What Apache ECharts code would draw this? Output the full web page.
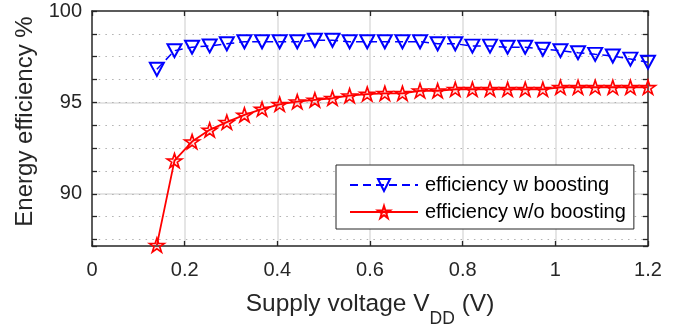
<!DOCTYPE html>
<html>
<head>
<meta charset="utf-8">
<script src="https://cdn.jsdelivr.net/npm/echarts@6/dist/echarts.min.js"></script>
<style>
html,body{margin:0;padding:0;background:#fff;}
#c{width:681px;height:329px;}
</style>
</head>
<body>
<div id="c"></div>
<script>
// ---- data ----
const voltage = [0.14, 0.178, 0.216, 0.254, 0.291, 0.329, 0.367, 0.405, 0.443, 0.481,
                 0.519, 0.556, 0.594, 0.632, 0.670, 0.708, 0.746, 0.784, 0.821, 0.859,
                 0.897, 0.935, 0.973, 1.011, 1.049, 1.086, 1.124, 1.162, 1.2];
const effBoost = [96.81, 97.83, 98.02, 98.09, 98.21, 98.32, 98.32, 98.32, 98.32, 98.40,
                  98.40, 98.32, 98.32, 98.32, 98.32, 98.32, 98.21, 98.21, 98.08, 98.08,
                  98.02, 98.02, 97.91, 97.83, 97.72, 97.63, 97.54, 97.37, 97.20];
const effNoBoost = [87.20, 91.82, 92.86, 93.50, 93.92, 94.32, 94.64, 94.90, 95.04, 95.14,
                    95.23, 95.37, 95.46, 95.50, 95.50, 95.64, 95.64, 95.72, 95.72, 95.72,
                    95.72, 95.72, 95.72, 95.83, 95.83, 95.83, 95.83, 95.83, 95.83];
const seriesNames = ['efficiency w boosting', 'efficiency w/o boosting'];
const yMajorTicks = [90, 95, 100];
const yMinorStep = 1.25;
const xTickStep = 0.2;
const xRange = [0, 1.2];
const yRange = [87.15, 100];

// ---- styling ----
const axisColor = '#262626';
const majorGrid = '#dcdcdc';
const minorGrid = '#b0b0b0';
const starPath = 'path://M50 0 L61.23 34.55 L97.55 34.55 L68.16 55.9 L79.39 90.45 L50 69.1 L20.61 90.45 L31.84 55.9 L2.45 34.55 L38.77 34.55 Z';
const font = '"Liberation Sans", Arial, Helvetica, sans-serif';

const boxAxisLine = {show: true, onZero: false, lineStyle: {color: axisColor, width: 1.5}};
const inTick = {show: true, inside: true, length: 5, lineStyle: {color: axisColor, width: 1.3}};

const chart = echarts.init(document.getElementById('c'), null, {renderer: 'canvas'});
chart.setOption({
  animation: false,
  backgroundColor: '#fff',
  textStyle: {fontFamily: font},
  grid: {left: 92, right: 33, top: 11, bottom: 83, containLabel: false, outerBoundsMode: 'none'},
  legend: {
    orient: 'vertical',
    left: 336, top: 165,
    padding: [10, 8, 7, 13],
    itemGap: 7,
    itemWidth: 68,
    itemHeight: 15,
    backgroundColor: '#fff',
    borderColor: axisColor,
    borderWidth: 1,
    borderRadius: 0,
    textStyle: {fontSize: 20, color: '#000', fontFamily: font, padding: [0, 0, 0, 2], lineHeight: 20},
    data: seriesNames
  },
  xAxis: [
    {
      type: 'value', min: xRange[0], max: xRange[1], interval: xTickStep, position: 'bottom',
      name: '{a|Supply voltage V}{s|DD}{a| (V)}',
      nameLocation: 'middle', nameGap: 46,
      nameTextStyle: {
        rich: {
          a: {fontSize: 24.5, color: axisColor, fontFamily: font, lineHeight: 26, verticalAlign: 'top'},
          s: {fontSize: 17.5, color: axisColor, fontFamily: font, lineHeight: 36, verticalAlign: 'bottom'}
        }
      },
      axisLine: boxAxisLine,
      axisTick: inTick,
      axisLabel: {fontSize: 20, color: axisColor, margin: 14, fontFamily: font},
      splitLine: {show: true, showMinLine: false, showMaxLine: false, lineStyle: {color: majorGrid, width: 1.5}}
    },
    {
      type: 'value', min: xRange[0], max: xRange[1], interval: xTickStep, position: 'top',
      axisLine: boxAxisLine,
      axisTick: inTick,
      axisLabel: {show: false},
      splitLine: {show: false}
    }
  ],
  yAxis: [
    {
      type: 'value', min: yRange[0], max: yRange[1], minInterval: 5, maxInterval: 5, position: 'left',
      name: 'Energy efficiency %', nameLocation: 'middle', nameGap: 55,
      nameTextStyle: {fontSize: 24, color: axisColor, fontFamily: font, padding: [0, 0, 0, 14]},
      axisLine: boxAxisLine,
      axisTick: {show: false},
      axisLabel: {
        fontSize: 20, color: axisColor, margin: 10, fontFamily: font,
        formatter: v => (yMajorTicks.indexOf(Math.round(v * 100) / 100) >= 0 ? String(Math.round(v)) : '')
      },
      splitLine: {show: true, showMinLine: false, showMaxLine: false, lineStyle: {color: majorGrid, width: 1.5}}
    },
    {
      type: 'value', min: yRange[0], max: yRange[1], minInterval: yMinorStep, maxInterval: yMinorStep, position: 'left',
      axisLine: {show: false, onZero: false},
      axisTick: inTick,
      axisLabel: {show: false},
      splitLine: {show: true, showMinLine: false, showMaxLine: false, lineStyle: {color: minorGrid, width: 1, type: [1.5, 5.2]}}
    },
    {
      type: 'value', min: yRange[0], max: yRange[1], minInterval: yMinorStep, maxInterval: yMinorStep, position: 'right',
      axisLine: boxAxisLine,
      axisTick: inTick,
      axisLabel: {show: false},
      splitLine: {show: false}
    }
  ],
  series: [
    {
      name: seriesNames[0], type: 'line', xAxisIndex: 0, yAxisIndex: 0,
      data: voltage.map((v, i) => [v, effBoost[i]]),
      symbol: 'triangle', symbolRotate: 180, symbolSize: [14, 13],
      itemStyle: {color: 'rgba(255,255,255,0)', borderColor: '#0000ff', borderWidth: 2},
      lineStyle: {color: '#0000ff', width: 1.5, type: [8, 5]},
      z: 3
    },
    {
      name: seriesNames[1], type: 'line', xAxisIndex: 0, yAxisIndex: 0,
      data: voltage.map((v, i) => [v, effNoBoost[i]]),
      symbol: starPath, symbolSize: [15, 14],
      itemStyle: {color: 'rgba(255,0,0,0.12)', borderColor: '#ff0000', borderWidth: 1.6},
      lineStyle: {color: '#ff0000', width: 1.8, type: 'solid'},
      z: 4
    }
  ]
});
</script>
</body>
</html>
